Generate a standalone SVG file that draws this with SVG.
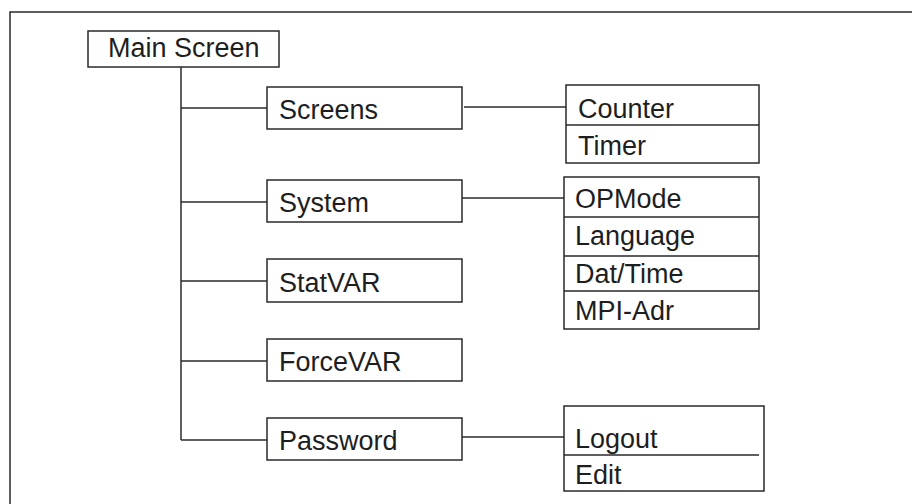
<svg xmlns="http://www.w3.org/2000/svg" width="912" height="504" viewBox="0 0 912 504">
<style>
  .box { fill: #ffffff; stroke: #2a2a2a; stroke-width: 1.5; }
  .ln { fill: none; stroke: #2a2a2a; stroke-width: 1.5; }
  text { font-family: "Liberation Sans", Arial, sans-serif; font-size: 27px; fill: #1e1e1e; }
</style>
<rect x="0" y="0" width="912" height="504" fill="#ffffff"/>
<path class="ln" d="M10,504 V12 H912"/>
<g id="connectors">
  <path class="ln" d="M181,67 V440"/>
  <path class="ln" d="M181,108 H267"/>
  <path class="ln" d="M181,202 H267"/>
  <path class="ln" d="M181,281 H267"/>
  <path class="ln" d="M181,361 H267"/>
  <path class="ln" d="M181,440 H267"/>
  <path class="ln" d="M464,107 H566"/>
  <path class="ln" d="M462,198 H564"/>
  <path class="ln" d="M462,437 H564"/>
</g>
<g id="main-screen">
  <rect class="box" x="88" y="31" width="191" height="36"/>
  <text x="108" y="57">Main Screen</text>
</g>
<g id="screens">
  <rect class="box" x="267" y="87" width="195" height="42"/>
  <text x="279" y="119">Screens</text>
</g>
<g id="system">
  <rect class="box" x="267" y="180" width="195" height="42"/>
  <text x="279" y="212">System</text>
</g>
<g id="statvar">
  <rect class="box" x="267" y="259" width="195" height="43"/>
  <text x="279" y="292">StatVAR</text>
</g>
<g id="forcevar">
  <rect class="box" x="267" y="339" width="195" height="42"/>
  <text x="279" y="371">ForceVAR</text>
</g>
<g id="password">
  <rect class="box" x="267" y="418" width="195" height="42"/>
  <text x="279" y="450">Password</text>
</g>
<g id="screens-menu">
  <rect class="box" x="566" y="85" width="193" height="78"/>
  <path class="ln" d="M566,125 H759"/>
  <text x="578" y="118">Counter</text>
  <text x="578" y="155">Timer</text>
</g>
<g id="system-menu">
  <rect class="box" x="564" y="177" width="195" height="152"/>
  <path class="ln" d="M564,217 H759 M564,256 H759 M564,291 H759"/>
  <text x="575" y="208">OPMode</text>
  <text x="575" y="245">Language</text>
  <text x="575" y="283">Dat/Time</text>
  <text x="575" y="320">MPI-Adr</text>
</g>
<g id="password-menu">
  <rect class="box" x="564" y="406" width="200" height="85"/>
  <path class="ln" d="M564,455 H759"/>
  <text x="575" y="448">Logout</text>
  <text x="575" y="484">Edit</text>
</g>
</svg>
